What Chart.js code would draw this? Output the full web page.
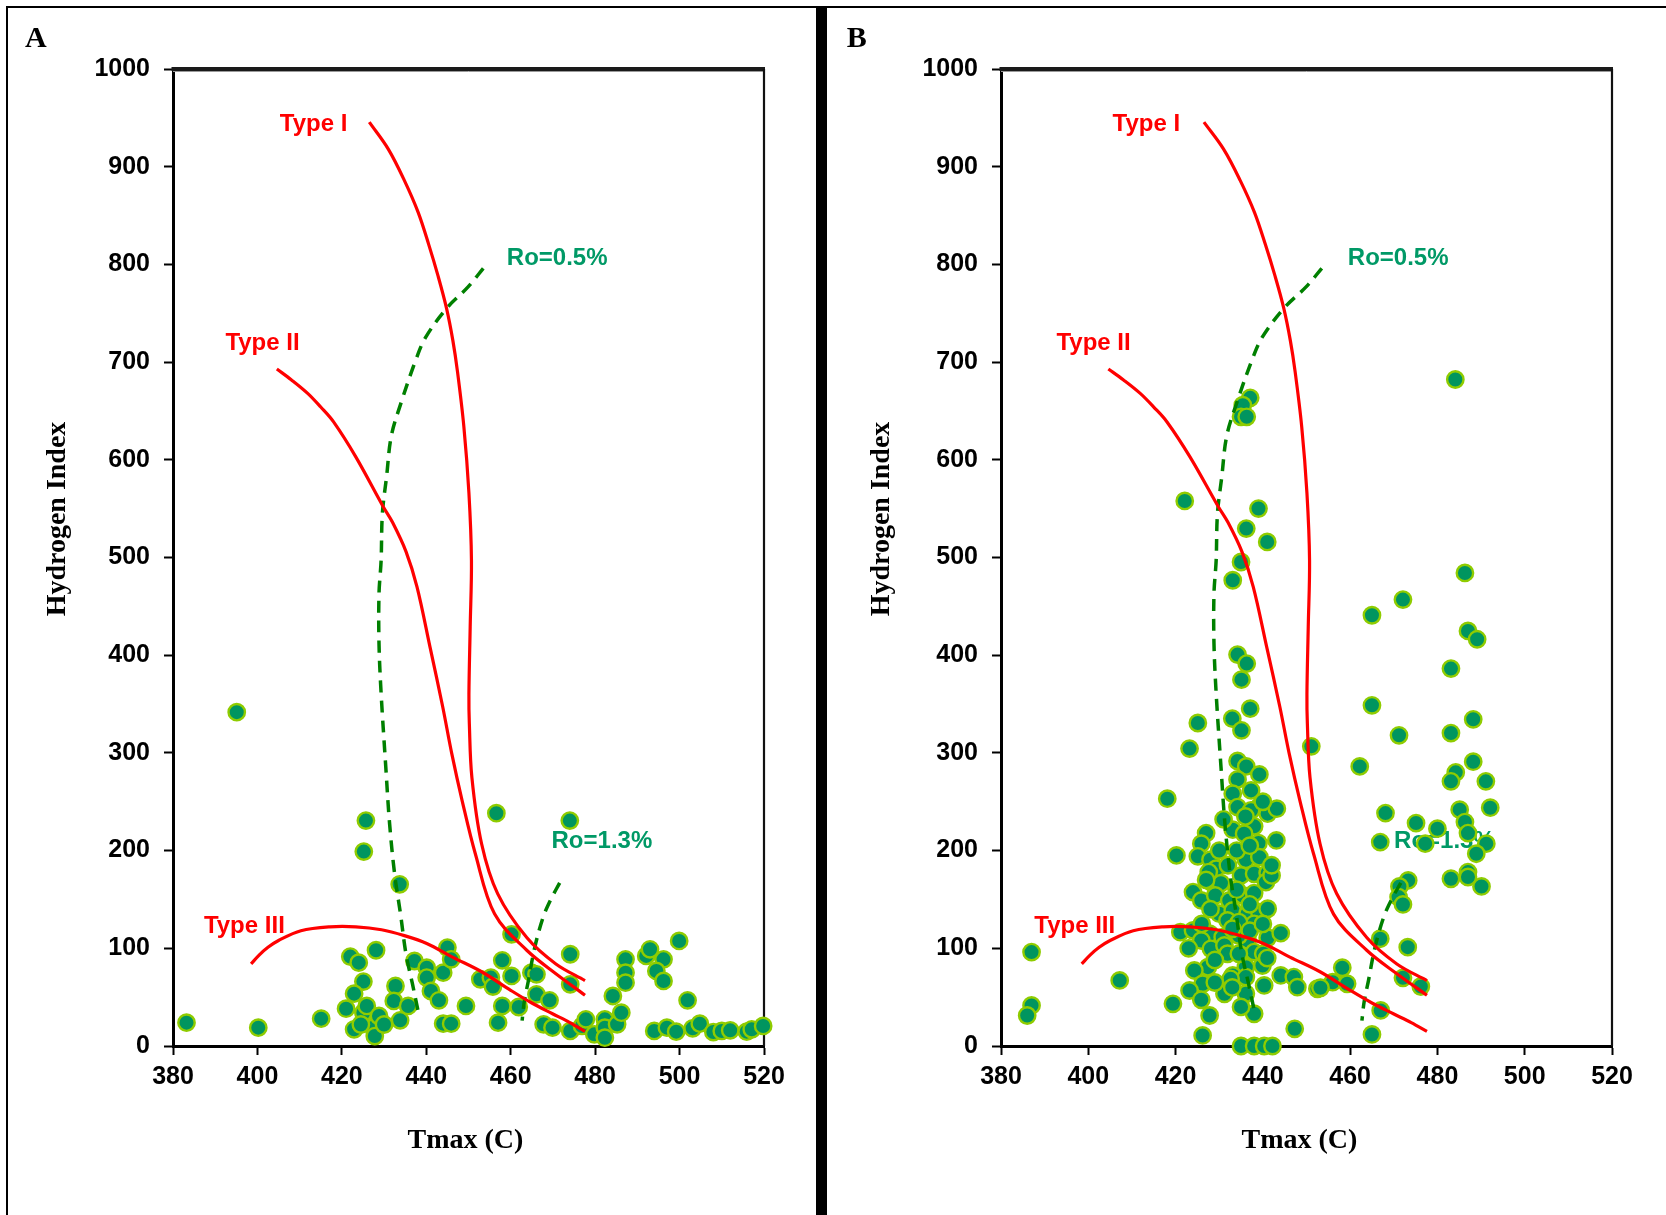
<!DOCTYPE html>
<html>
<head>
<meta charset="utf-8">
<script src="https://cdn.jsdelivr.net/npm/chart.js@4.4.0/dist/chart.umd.min.js"></script>
<style>
html,body{margin:0;padding:0;background:#fff;}
body{width:1666px;height:1215px;position:relative;overflow:hidden;}
.ln{position:absolute;background:#000;}
canvas{position:absolute;top:0;}
</style>
</head>
<body>
<div class="ln" style="left:6px;top:6px;width:1660px;height:2px;"></div>
<div class="ln" style="left:6px;top:6px;width:2px;height:1209px;"></div>
<div class="ln" style="left:816px;top:6px;width:11px;height:1209px;"></div>
<canvas id="chartA" width="816" height="1215" style="left:0px;"></canvas>
<canvas id="chartB" width="839" height="1215" style="left:827px;"></canvas>
<script>
// ---------- axis ticks ----------
const xTicks = [380, 400, 420, 440, 460, 480, 500, 520];
const yTicks = [0, 100, 200, 300, 400, 500, 600, 700, 800, 900, 1000];

// ---------- Panel A samples (Tmax, HI) ----------
const tmaxA = [383.2,400.2,415.1,421.0,422.0,424.0,428.1,425.1,422.9,422.9,425.1,425.9,427.4,428.8,427.8,432.7,432.3,433.8,435.7,433.7,425.2,425.7,395.1,437.2,440.1,440.1,441.1,443.0,444.0,445.0,445.9,444.0,445.9,449.4,452.8,455.3,455.8,456.6,458.0,460.2,458.0,457.0,460.2,461.9,464.9,466.1,466.1,469.2,467.8,469.9,474.1,474.1,474.1,474.0,476.9,477.8,479.8,482.3,482.3,482.3,485.2,486.2,484.2,487.2,487.2,487.2,492.1,493.0,496.2,494.5,496.2,499.9,501.9,494.0,497.0,499.2,503.1,504.8,508.0,510.0,512.0,515.9,517.1,519.8,424.5,430.0];
const hiA   = [23.9,18.8,28.0,38.2,91.5,85.3,98.0,65.9,53.6,17.1,34.1,41.0,18.8,30.7,10.2,61.4,46.1,26.3,41.0,165.5,199.0,230.7,341.7,87.0,80.2,70.0,56.3,46.8,75.1,100.7,88.7,22.9,22.9,41.0,68.3,70.0,60.8,238.3,87.7,114.3,41.0,23.9,71.7,39.9,75.1,73.4,52.9,46.8,22.2,18.8,93.9,63.1,15.4,230.7,20.5,27.3,11.9,27.3,18.8,8.5,22.2,34.1,51.2,88.7,75.1,64.8,92.2,99.0,88.7,76.8,66.6,107.5,46.8,15.4,18.8,14.7,18.1,22.9,14.3,15.4,16.0,14.7,17.1,20.5,22.0,22.0];

// ---------- Panel B samples (Tmax, HI) ----------
const tmaxB = [437.1,435.4,435.0,436.3,422.1,439.0,436.2,441.0,435.0,433.1,465.0,434.2,436.3,435.1,437.1,465.0,484.1,
433.0,435.1,425.1,423.2,451.1,434.2,436.2,439.2,434.2,437.3,433.1,418.1,434.2,439.2,441.1,443.2,433.1,438.0,435.7,439.0,443.1,427.0,425.9,420.2,436.1,439.2,425.1,428.0,429.3,435.0,438.0,441.1,428.1,430.4,424.0,425.9,429.1,432.3,435.4,438.0,440.7,430.0,433.1,436.5,439.2,441.1,431.9,438.0,421.1,424.0,427.8,430.8,436.5,441.1,444.1,425.9,428.1,431.2,431.9,438.0,427.4,424.3,436.1,439.9,433.1,436.1,426.2,440.3,444.1,447.1,447.9,452.5,423.2,431.2,436.1,407.2,419.4,425.9,427.8,438.0,426.2,447.3,435.0,438.0,440.3,442.2,
432.6,434.5,434.5,434.5,440.1,442.0,427.6,437.3,432.0,434.0,437.0,431.0,436.0,440.0,433.0,437.0,429.0,433.0,429.0,441.0,426.0,423.0,434.0,428.0,437.0,442.0,430.0,427.0,440.0,435.0,
486.3,472.1,487.0,489.1,483.1,488.2,471.2,483.1,462.2,488.2,484.2,483.1,491.1,485.1,492.1,468.1,486.3,475.1,480.0,487.0,466.9,477.2,491.2,488.9,483.1,487.0,487.0,490.1,473.3,471.3,471.1,472.1,466.9,473.2,458.2,456.0,459.3,453.2,472.1,476.2,467.0,465.0,
387.0,387.0,386.0];
const hiB   = [663.4,655.9,644.0,644.0,557.9,550.1,529.6,515.9,495.4,476.7,440.9,400.6,391.4,375.0,345.3,348.7,682.2,
335.1,323.1,330.6,304.4,306.7,291.7,286.2,278.0,272.9,261.6,258.3,253.1,244.5,245.3,237.8,242.9,221.4,224.8,217.3,207.7,210.4,217.9,207.1,195.1,190.7,193.3,194.1,190.7,181.5,174.6,176.3,177.0,167.7,166.7,157.5,149.0,154.1,149.0,154.1,156.5,167.7,135.4,138.8,135.4,137.0,140.5,128.5,125.1,116.5,118.3,114.9,111.4,108.0,110.8,115.5,108.0,99.5,102.9,94.4,96.1,80.7,77.3,80.7,82.4,72.2,70.5,63.7,62.0,72.2,70.5,60.2,58.6,56.8,53.5,53.5,67.1,43.2,47.3,31.2,33.0,10.8,17.6,0,0,0,0,
68.8,126.8,113.0,94.4,94.4,174.6,178.0,241.2,185.0,200.0,205.0,232.0,235.0,250.0,120.0,118.0,88.0,60.0,65.0,90.0,125.0,100.0,160.0,140.0,145.0,185.0,200.0,170.0,125.0,40.0,
484.2,456.9,424.8,416.3,386.3,334.4,318.0,320.3,286.2,291.0,280.1,270.9,270.9,241.9,243.9,238.4,229.2,228.2,222.4,217.9,208.7,207.1,207.1,196.8,171.2,178.0,173.0,163.3,169.5,163.3,152.4,144.9,109.8,101.2,80.1,65.3,63.7,59.6,69.8,60.9,36.4,11.8,
96.1,41.5,31.2];

// ---------- Kerogen type and maturity guide curves ----------
const type1X = [426.5,431.0,434.8,438.1,440.6,442.8,444.8,446.3,447.4,448.9,450.1,450.7,450.4,450.1,450.2,450.8,453.1,456.9,463.8,470.7,477.6];
const type1Y = [945.6,918,886,853,820,788,755,722,690,634,566,497,429,360,330,275,207,156,111,84,67];
const type2X = [404.6,408.0,411.9,415.0,418.0,423.3,429.8,432.0,435.2,437.8,440.9,443.9,446.0,448.5,451.6,456.2,463.8,470.7,477.6];
const type2Y = [693,682,668,654,639,603,552,536,506,470,408,347,300,251,197,135,98,74,52];
const type3X = [398.5,400.4,402.5,405.0,410.3,417.2,423.3,429.4,434.8,440.1,446.2,453.1,460.0,465.0,469.9,474.0,477.6];
const type3Y = [84,93,101,108,118,122,122,119,113,105,91,76,57,44,33,24,15];
const ro05X = [453.5,449.9,444.8,439.8,437.5,434.0,431.7,430.6,429.6,429.3,428.8,428.8,429.3,430.4,431.3,432.5,433.9,435.2,436.7,438.0];
const ro05Y = [796,777,755,725,702,658,624,583,545,497,463,412,361,286,228,176,135,94,64,37];
const ro13X = [471.6,469.5,467.7,465.7,464.2,463.2,462.7];
const ro13Y = [167,150,132,101,67,45,26];

// ---------- curve labels (text, Tmax, HI) ----------
const curveLabels = ['Type I', 'Type II', 'Type III', 'Ro=0.5%', 'Ro=1.3%'];
const curveLabelX = [413.3, 401.2, 396.9, 471.0, 481.6];
const curveLabelY = [945.6, 721.0, 124.8, 808.5, 211.3];

const RED = '#ff0000';
const DGREEN = '#008000';
const LBLGREEN = '#009966';

const toPts = (X, Y) => X.map((x, i) => ({x: x, y: Y[i]}));

const deco = {
  id: 'deco',
  beforeDatasetsDraw(chart, args, o) {
    const {ctx, chartArea: a, scales} = chart;
    const xs = scales.x, ys = scales.y;
    ctx.save();
    // top and right frame of plot area
    ctx.strokeStyle = '#1a1a1a';
    ctx.lineWidth = 4;
    ctx.beginPath(); ctx.moveTo(a.left - 1.5, a.top); ctx.lineTo(a.right + 1, a.top); ctx.stroke();
    ctx.strokeStyle = '#9a9a9a';
    ctx.lineWidth = 1;
    ctx.beginPath(); ctx.moveTo(a.left, a.top + 2.5); ctx.lineTo(a.right, a.top + 2.5); ctx.stroke();
    ctx.strokeStyle = '#111';
    ctx.lineWidth = 2.2;
    ctx.beginPath(); ctx.moveTo(a.right, a.top); ctx.lineTo(a.right, a.bottom); ctx.stroke();
    // curve labels
    const fs = 24;
    ctx.font = 'bold ' + fs + 'px "Liberation Sans", Arial, sans-serif';
    ctx.textAlign = 'center';
    ctx.textBaseline = 'alphabetic';
    curveLabels.forEach((t, i) => {
      ctx.fillStyle = i < 3 ? RED : LBLGREEN;
      ctx.fillText(t, xs.getPixelForValue(curveLabelX[i]), ys.getPixelForValue(curveLabelY[i]) + 0.358 * fs);
    });
    ctx.restore();
  },
  afterDraw(chart, args, o) {
    const {ctx} = chart;
    ctx.save();
    ctx.fillStyle = '#000';
    ctx.textBaseline = 'alphabetic';
    // panel letter
    ctx.font = 'bold 30px "Liberation Serif", "Times New Roman", serif';
    ctx.textAlign = 'left';
    ctx.fillText(o.letter, o.letterX, 46.7);
    // x title
    ctx.font = 'bold 28px "Liberation Serif", "Times New Roman", serif';
    ctx.textAlign = 'center';
    ctx.fillText('Tmax (C)', o.xTitleX, 1147.5);
    // y title
    ctx.translate(o.yTitleX, 519);
    ctx.rotate(-Math.PI / 2);
    ctx.fillText('Hydrogen Index', 0, 0);
    ctx.restore();
  }
};

function build(id, tx, hi, opt) {
  const datasets = [
    {label: 'Type I', data: toPts(type1X, type1Y), showLine: true, borderColor: RED, borderWidth: 3.2, pointRadius: 0, tension: 0.35, order: 1, clip: false},
    {label: 'Type II', data: toPts(type2X, type2Y), showLine: true, borderColor: RED, borderWidth: 3.2, pointRadius: 0, tension: 0.35, order: 1, clip: false},
    {label: 'Type III', data: toPts(type3X, type3Y), showLine: true, borderColor: RED, borderWidth: 3.2, pointRadius: 0, tension: 0.35, order: 1, clip: false},
    {label: 'Ro=0.5%', data: toPts(ro05X, ro05Y), showLine: true, borderColor: DGREEN, borderWidth: 3.5, borderDash: [12, 8], pointRadius: 0, tension: 0.35, order: 1, clip: false},
    {label: 'Ro=1.3%', data: toPts(ro13X, ro13Y), showLine: true, borderColor: DGREEN, borderWidth: 3.5, borderDash: [12, 8], pointRadius: 0, tension: 0.35, order: 1, clip: false},
    {label: 'Samples', data: toPts(tx, hi), showLine: false, pointRadius: 8.2, pointBorderWidth: 2.4,
     backgroundColor: '#00955f', borderColor: '#8fcc00', order: 10, clip: false}
  ];
  return new Chart(document.getElementById(id), {
    type: 'scatter',
    data: {datasets: datasets},
    plugins: [deco],
    options: {
      responsive: false,
      devicePixelRatio: 1,
      animation: false,
      events: [],
      layout: {padding: {top: 69, right: opt.padRight, bottom: 0, left: 0}},
      plugins: {
        legend: {display: false},
        tooltip: {enabled: false},
        deco: {letter: opt.letter, letterX: opt.letterX, xTitleX: opt.xTitleX, yTitleX: opt.yTitleX}
      },
      scales: {
        x: {
          type: 'linear', min: xTicks[0], max: xTicks[xTicks.length - 1],
          afterFit: (s) => { s.height = 169; },
          afterBuildTicks: (s) => { s.ticks = xTicks.map(v => ({value: v})); },
          border: {display: true, color: '#000', width: 3},
          grid: {display: true, drawOnChartArea: false, drawTicks: true, tickLength: 9, tickWidth: 2, tickColor: '#000'},
          ticks: {autoSkip: false, maxRotation: 0, padding: 7, color: '#000',
                  callback: (v) => String(v),
                  font: {family: '"Liberation Sans", Arial, sans-serif', weight: 'bold', size: 25}}
        },
        y: {
          type: 'linear', min: yTicks[0], max: yTicks[yTicks.length - 1],
          afterFit: (s) => { s.width = opt.yWidth; },
          afterBuildTicks: (s) => { s.ticks = yTicks.map(v => ({value: v})); },
          border: {display: true, color: '#000', width: 3},
          grid: {display: true, drawOnChartArea: false, drawTicks: true, tickLength: 9, tickWidth: 2, tickColor: '#000'},
          ticks: {autoSkip: false, padding: 14, color: '#000',
                  callback: (v) => String(v),
                  font: {family: '"Liberation Sans", Arial, sans-serif', weight: 'bold', size: 25}}
        }
      }
    }
  });
}

build('chartA', tmaxA, hiA, {padRight: 52, yWidth: 173, letter: 'A', letterX: 25, xTitleX: 465.4, yTitleX: 65});
build('chartB', tmaxB, hiB, {padRight: 54, yWidth: 174, letter: 'B', letterX: 19.7, xTitleX: 472.4, yTitleX: 62});
</script>
</body>
</html>
